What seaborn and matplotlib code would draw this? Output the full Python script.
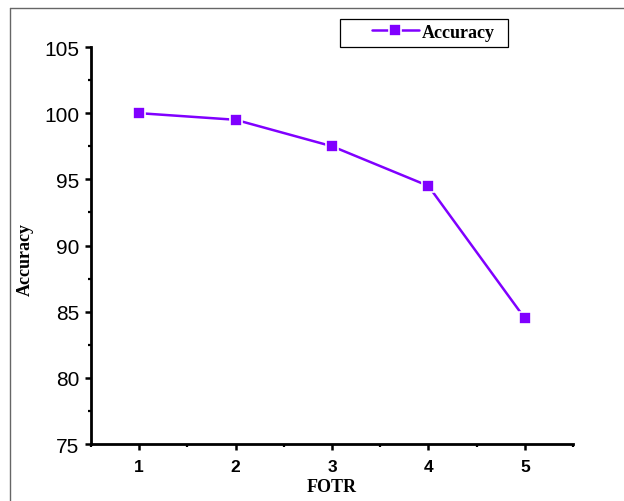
import matplotlib
matplotlib.use("Agg")
import matplotlib.pyplot as plt
import seaborn as sns
import pandas as pd
from matplotlib.ticker import MultipleLocator
from matplotlib.patches import Rectangle
from matplotlib.lines import Line2D

# data
fotr = [1, 2, 3, 4, 5]
accuracy = [100.0, 99.5, 97.5, 94.5, 84.5]

df = pd.DataFrame({"FOTR": fotr, "Accuracy": accuracy})

sns.set_style("ticks")
plt.rcParams["font.family"] = ["Liberation Sans", "DejaVu Sans"]
plt.rcParams["text.color"] = "black"
plt.rcParams["axes.labelcolor"] = "black"
plt.rcParams["xtick.color"] = "black"
plt.rcParams["ytick.color"] = "black"

purple = "#8000FF"

fig = plt.figure(figsize=(6.24, 5.02), dpi=100)
ax = fig.add_axes([91 / 624, 1 - 445 / 502, 482 / 624, 397 / 502])

sns.lineplot(data=df, x="FOTR", y="Accuracy", ax=ax, color=purple,
             linewidth=1.8, marker="s", markersize=8.4,
             markerfacecolor=purple, markeredgecolor="white",
             markeredgewidth=1.2, label="Accuracy", legend=False)

ax.set_xlim(0.5, 5.5)
ax.set_ylim(75, 105)
ax.xaxis.set_major_locator(MultipleLocator(1))
ax.xaxis.set_minor_locator(MultipleLocator(0.5))
ax.yaxis.set_major_locator(MultipleLocator(5))
ax.yaxis.set_minor_locator(MultipleLocator(2.5))

for side in ["top", "right"]:
    ax.spines[side].set_visible(False)
for side in ["left", "bottom"]:
    ax.spines[side].set_linewidth(2)
    ax.spines[side].set_color("black")

ax.tick_params(which="major", direction="out", length=4.5, width=1.8, color="black")
ax.tick_params(which="minor", direction="out", length=2.5, width=1.6, color="black")
ax.tick_params(axis="y", which="major", labelsize=15, pad=4)
ax.tick_params(axis="x", which="major", labelsize=12.5, pad=6)
for lab in ax.get_xticklabels():
    lab.set_fontweight("bold")

serif = ["Liberation Serif", "DejaVu Serif"]
ax.set_xlabel("FOTR", family=serif, fontweight="bold", fontsize=13)
ax.set_ylabel("Accuracy", family=serif, fontweight="bold", fontsize=13)
ax.xaxis.set_label_coords(0.5, -0.085)
ax.yaxis.set_label_coords(-0.118, 0.468)

# legend: frameless legend inside a drawn box
leg = ax.legend(loc="upper left", bbox_to_anchor=(368 / 624, 1 - 21 / 502),
                bbox_transform=fig.transFigure, frameon=False,
                prop={"family": serif, "weight": "bold", "size": 13},
                handlelength=2.6, handletextpad=0.2, borderpad=0.2,
                borderaxespad=0)
fig.patches.append(Rectangle((340 / 624, 1 - 48 / 502), 168 / 624, 28 / 502,
                             transform=fig.transFigure, fill=False,
                             edgecolor="black", linewidth=0.9))

# outer frame (top and left edges)
fig.lines.append(Line2D([10 / 624, 1], [1 - 9 / 502, 1 - 9 / 502],
                        transform=fig.transFigure, color="#666666", linewidth=1))
fig.lines.append(Line2D([10 / 624, 10 / 624], [0, 1 - 9 / 502],
                        transform=fig.transFigure, color="#666666", linewidth=1))

fig.savefig("out.png", dpi=100)
